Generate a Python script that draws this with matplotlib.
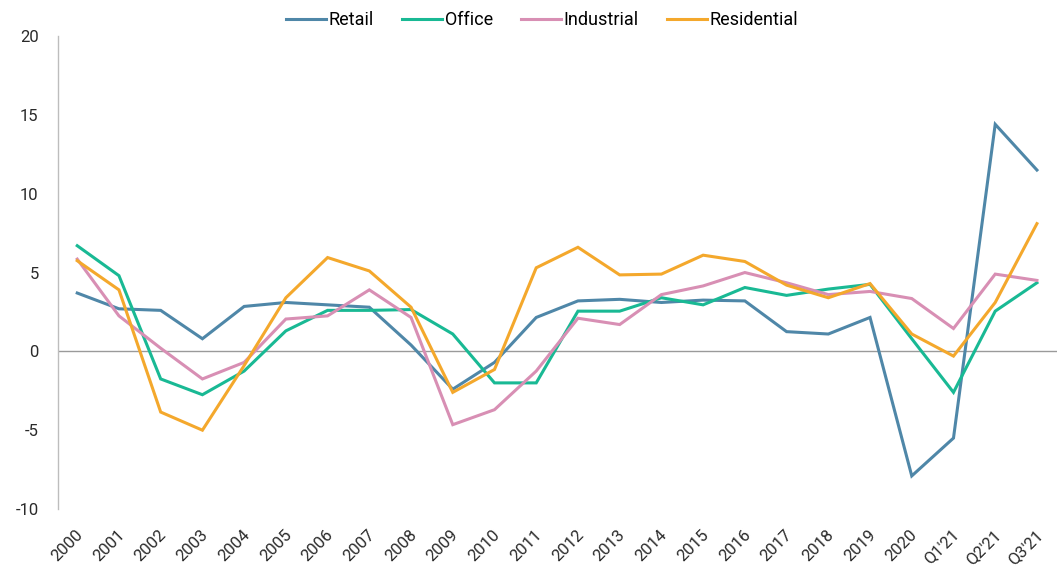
import matplotlib
matplotlib.use("Agg")
import matplotlib.pyplot as plt
import matplotlib.transforms as mtransforms

categories = ["2000", "2001", "2002", "2003", "2004", "2005", "2006", "2007", "2008", "2009",
              "2010", "2011", "2012", "2013", "2014", "2015", "2016", "2017", "2018", "2019",
              "2020", "Q1'21", "Q2'21", "Q3'21"]

retail = [3.7, 2.7, 2.6, 0.8, 2.85, 3.1, 2.95, 2.8, 0.4, -2.4, -0.7, 2.15, 3.2, 3.3, 3.1, 3.25,
          3.2, 1.25, 1.1, 2.15, -7.9, -5.5, 14.4, 11.5]
office = [6.7, 4.8, -1.75, -2.75, -1.25, 1.3, 2.6, 2.6, 2.65, 1.1, -2.0, -2.0, 2.55, 2.55,
          3.4, 2.95, 4.05, 3.55, 3.95, 4.25, 0.8, -2.6, 2.55, 4.35]
industrial = [5.85, 2.25, 0.2, -1.75, -0.7, 2.05, 2.25, 3.9, 2.15, -4.65, -3.7, -1.25, 2.1,
              1.7, 3.6, 4.15, 5.0, 4.35, 3.6, 3.8, 3.35, 1.45, 4.9, 4.5]
residential = [5.75, 3.9, -3.85, -5.0, -0.9, 3.4, 5.95, 5.1, 2.8, -2.6, -1.15, 5.3, 6.6, 4.85,
               4.9, 6.1, 5.7, 4.2, 3.4, 4.3, 1.1, -0.3, 3.1, 8.1]

series_names = ["Retail", "Office", "Industrial", "Residential"]
colors = ["#4f87a8", "#19b994", "#d88fb4", "#f4a82c"]

plt.rcParams['font.family'] = ['Roboto', 'DejaVu Sans']
plt.rcParams['axes.unicode_minus'] = False

fig = plt.figure(figsize=(10.61, 5.69), dpi=100)
ax = fig.add_axes([0.0547, 0.1054, 0.9415, 0.8313])

x = list(range(len(categories)))
for name, vals, c in zip(series_names, [retail, office, industrial, residential], colors):
    ax.plot(x, vals, color=c, lw=2.2, label=name, solid_joinstyle='miter')

ax.axhline(0, color="#9a9a9a", lw=1.0, zorder=0)
ax.set_xlim(-0.46, 23.48)
ax.set_ylim(-10, 20)
ax.set_yticks([-10, -5, 0, 5, 10, 15, 20])
ax.tick_params(axis='both', length=0, labelsize=12, colors="#2a2a2a")
ax.tick_params(axis='y', pad=14)
ax.set_xticks(x)
ax.set_xticklabels(categories, rotation=45, ha='right', va='top', rotation_mode='anchor')
offset = mtransforms.ScaledTranslation(-2 / 100, -13 / 100, fig.dpi_scale_trans)
for lbl in ax.get_xticklabels():
    lbl.set_transform(lbl.get_transform() + offset)

for s in ["top", "right", "bottom"]:
    ax.spines[s].set_visible(False)
ax.spines["left"].set_color("#bdbdbd")
ax.spines["left"].set_linewidth(1.0)

fig.legend(loc="center", bbox_to_anchor=(0.511, 0.965), ncol=4, frameon=False,
           fontsize=13, handlelength=2.2, handletextpad=0.17, columnspacing=1.55)

fig.savefig("out.png", dpi=100)
